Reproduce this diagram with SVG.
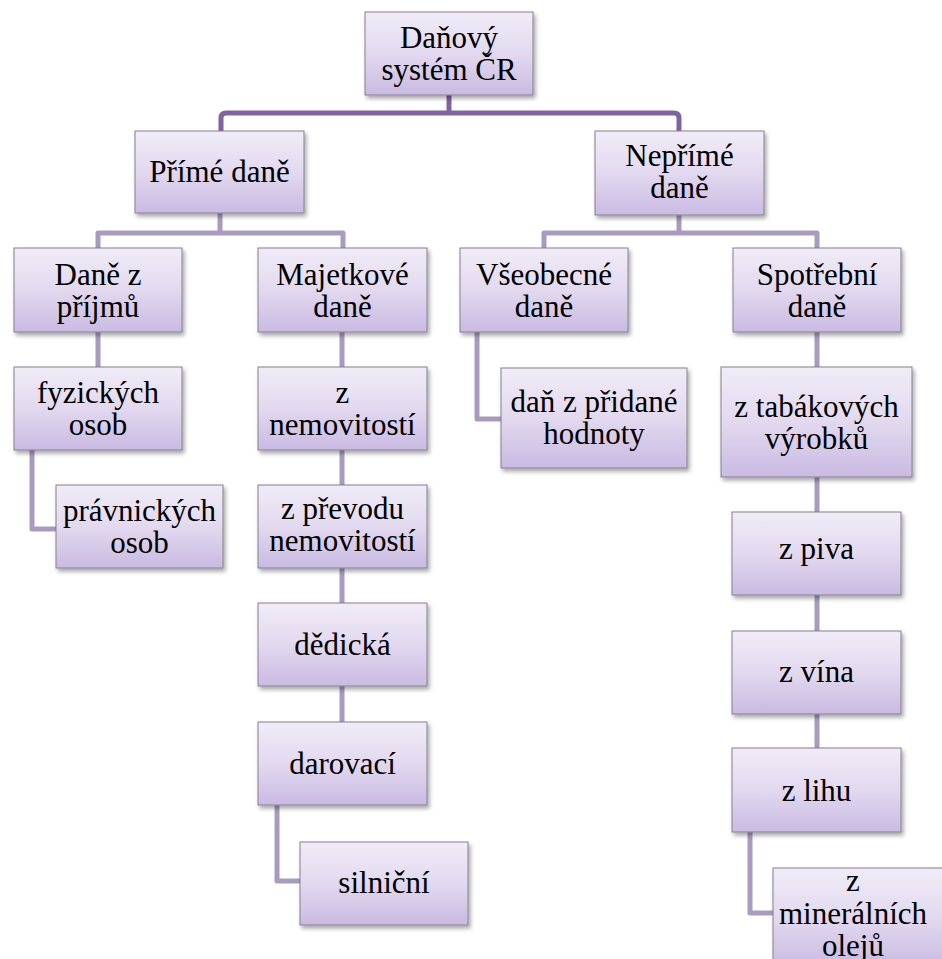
<svg xmlns="http://www.w3.org/2000/svg" width="942" height="959" viewBox="0 0 942 959">
<defs>
<linearGradient id="g" x1="0" y1="0" x2="0" y2="1">
<stop offset="0" stop-color="#F0ECF7"/>
<stop offset="0.5" stop-color="#E2D9EF"/>
<stop offset="1" stop-color="#C9BAE2"/>
</linearGradient>
<filter id="sh" x="-10%" y="-10%" width="125%" height="130%">
<feDropShadow dx="2" dy="3" stdDeviation="2" flood-color="#000" flood-opacity="0.35"/>
</filter>
</defs>
<style>
.box{fill:url(#g);stroke:#85808C;stroke-width:1;filter:url(#sh)}
.t{font-size:31px;fill:#000;text-anchor:middle}
.c1{fill:none;stroke:#8064A2;stroke-width:5;stroke-linejoin:round}
.c2{fill:none;stroke:#A89BBF;stroke-width:5;stroke-linejoin:round}
</style>
<rect width="942" height="959" fill="#fff"/>
<g id="connectors">
<path class="c1" d="M449 95V113M221 131V118Q221 113 226 113H674Q679 113 679 118V131"/>
<path class="c2" d="M220 213V233M98 248V233H343V248"/>
<path class="c2" d="M679 215V233M544 248V233H817V248"/>
<path class="c2" d="M98 332V367"/>
<path class="c2" d="M32 450V529H56"/>
<path class="c2" d="M342 332V367M342 450V485M342 568V603M342 686V722"/>
<path class="c2" d="M277 805V881H300"/>
<path class="c2" d="M477 332V419H501"/>
<path class="c2" d="M817 332V367M817 477V512M817 595V631M817 714V748"/>
<path class="c2" d="M750 832V913H773"/>
</g>
<g font-family="'Liberation Serif', 'Times New Roman', serif">
<g id="n-root"><rect class="box" x="365" y="12" width="168" height="83"/><text class="t" x="449" y="48">Daňový</text><text class="t" x="449" y="80">systém ČR</text></g>
<g id="n-prime"><rect class="box" x="135" y="131" width="169" height="82"/><text class="t" x="219.5" y="182">Přímé daně</text></g>
<g id="n-neprime"><rect class="box" x="595" y="131" width="169" height="84"/><text class="t" x="679.5" y="166">Nepřímé</text><text class="t" x="679.5" y="198">daně</text></g>
<g id="n-prijmy"><rect class="box" x="14" y="248" width="168" height="84"/><text class="t" x="98" y="285">Daně z</text><text class="t" x="98" y="317">příjmů</text></g>
<g id="n-majetkove"><rect class="box" x="258" y="248" width="169" height="84"/><text class="t" x="342.5" y="285">Majetkové</text><text class="t" x="342.5" y="317">daně</text></g>
<g id="n-vseobecne"><rect class="box" x="460" y="248" width="168" height="84"/><text class="t" x="544" y="285">Všeobecné</text><text class="t" x="544" y="317">daně</text></g>
<g id="n-spotrebni"><rect class="box" x="733" y="248" width="168" height="84"/><text class="t" x="817" y="285">Spotřební</text><text class="t" x="817" y="317">daně</text></g>
<g id="n-fyzicke"><rect class="box" x="14" y="367" width="168" height="83"/><text class="t" x="98" y="403">fyzických</text><text class="t" x="98" y="435">osob</text></g>
<g id="n-pravnicke"><rect class="box" x="56" y="485" width="167" height="83"/><text class="t" x="139.5" y="521">právnických</text><text class="t" x="139.5" y="553">osob</text></g>
<g id="n-nemovitosti"><rect class="box" x="258" y="367" width="169" height="83"/><text class="t" x="342.5" y="403">z</text><text class="t" x="342.5" y="435">nemovitostí</text></g>
<g id="n-prevod"><rect class="box" x="258" y="485" width="169" height="83"/><text class="t" x="342.5" y="519">z převodu</text><text class="t" x="342.5" y="551">nemovitostí</text></g>
<g id="n-dedicka"><rect class="box" x="258" y="603" width="169" height="83"/><text class="t" x="342.5" y="655">dědická</text></g>
<g id="n-darovaci"><rect class="box" x="258" y="722" width="169" height="83"/><text class="t" x="342.5" y="774">darovací</text></g>
<g id="n-silnicni"><rect class="box" x="300" y="842" width="168" height="83"/><text class="t" x="384" y="893">silniční</text></g>
<g id="n-dph"><rect class="box" x="501" y="368" width="186" height="100"/><text class="t" x="594" y="412">daň z přidané</text><text class="t" x="594" y="444">hodnoty</text></g>
<g id="n-tabak"><rect class="box" x="721" y="367" width="191" height="110"/><text class="t" x="816.5" y="417">z tabákových</text><text class="t" x="816.5" y="449">výrobků</text></g>
<g id="n-piva"><rect class="box" x="732" y="512" width="169" height="83"/><text class="t" x="816.5" y="559">z piva</text></g>
<g id="n-vina"><rect class="box" x="732" y="631" width="169" height="83"/><text class="t" x="816.5" y="682">z vína</text></g>
<g id="n-lihu"><rect class="box" x="732" y="748" width="169" height="84"/><text class="t" x="816.5" y="801">z lihu</text></g>
<g id="n-mineral"><rect class="box" x="773" y="868" width="180" height="100"/><text class="t" x="853" y="891">z</text><text class="t" x="853" y="924">minerálních</text><text class="t" x="853" y="956">olejů</text></g>
</g>
</svg>
